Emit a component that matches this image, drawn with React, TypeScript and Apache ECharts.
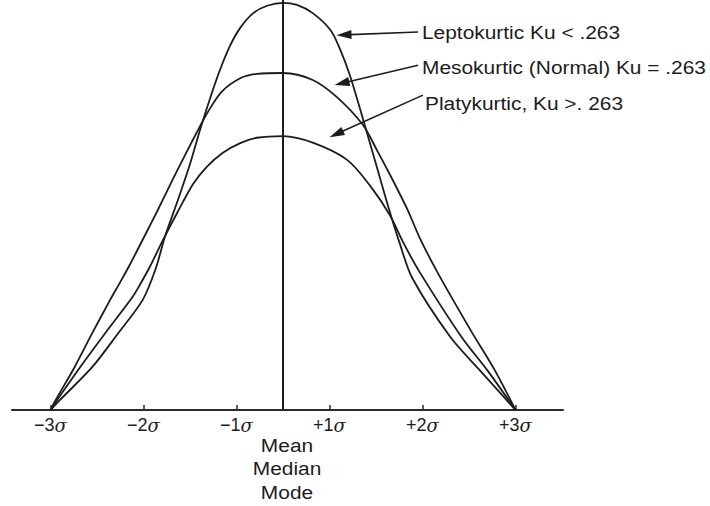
import React, { useEffect, useRef } from "react";
import * as echarts from "echarts";

// x in display units (center = mean), y as relative height (0..100)
const leptokurtic: [number, number][] = [
  [-2.5, 0], [-2.4, 2.4], [-2.05, 10.5], [-1.77, 18.8], [-1.51, 26.8], [-1.37, 34.4],
  [-1.27, 42.2], [-1.13, 51.2], [-1.0, 60.0], [-0.89, 68.5], [-0.78, 76.3], [-0.68, 82.8],
  [-0.57, 88.8], [-0.46, 93.2], [-0.32, 96.8], [-0.17, 98.6], [0, 99.3], [0.15, 98.8],
  [0.32, 96.8], [0.51, 92.7], [0.61, 88.2], [0.72, 81.6], [0.86, 71.0], [1.0, 60.0],
  [1.12, 50.5], [1.25, 41.0], [1.39, 32.2], [1.8, 17.8], [2.12, 9.6], [2.5, 0],
];
const mesokurtic: [number, number][] = [
  [-2.5, 0], [-2.45, 2.2], [-2.24, 10.5], [-2.05, 18.8], [-1.86, 26.8], [-1.75, 31.2],
  [-1.65, 35.3], [-1.48, 42.8], [-1.35, 48.6], [-1.18, 56.5], [-1.03, 63.2], [-0.92, 68.0],
  [-0.81, 72.6], [-0.66, 77.6], [-0.46, 80.9], [-0.28, 82.0], [0, 82.2], [0.32, 80.5],
  [0.58, 76.3], [0.86, 69.5], [1.01, 63.4], [1.18, 56.1], [1.34, 48.8], [1.47, 42.0],
  [1.67, 33.2], [2.03, 19.0], [2.28, 9.6], [2.5, 0],
];
const platykurtic: [number, number][] = [
  [-2.5, 0], [-2.43, 2.4], [-2.18, 10.5], [-1.91, 18.8], [-1.62, 27.5], [-1.54, 30.5],
  [-1.43, 35.0], [-1.29, 41.5], [-1.14, 48.0], [-0.97, 55.0], [-0.82, 59.3], [-0.65, 62.7],
  [-0.46, 65.1], [-0.28, 66.4], [0, 66.8], [0.32, 65.2], [0.69, 61.0], [0.94, 54.6],
  [1.15, 47.5], [1.29, 41.0], [1.46, 34.0], [1.92, 17.8], [2.2, 9.6], [2.5, 0],
];

const tickValues = [-2.5, -1.5, -0.5, 0.5, 1.5, 2.5];
const tickSigns = ["\u22123", "\u22122", "\u22121", "+1", "+2", "+3"];
const centerLabel = ["Mean", "Median", "Mode"];

const labels = ["Leptokurtic Ku < .263", "Mesokurtic (Normal) Ku = .263", "Platykurtic, Ku >. 263"];
// arrow start (near label) and arrow head (near curve), in data units
const arrowFrom: [number, number][] = [[1.452, 92.2], [1.452, 84.1], [1.505, 76.8]];
const arrowTo: [number, number][] = [[0.656, 91.5], [0.634, 79.7], [0.574, 67.3]];

const FONT = "'Liberation Sans', Arial, Helvetica, sans-serif";
const INK = "#1c1c1c";
const ARROW = "path://M0,0L5,16L-5,16Z";

export default function App() {
  const ref = useRef<HTMLDivElement>(null);
  useEffect(() => {
    if (!ref.current) return;
    const chart = echarts.init(ref.current, undefined, { renderer: "svg" });
    const curves = [leptokurtic, mesokurtic, platykurtic];
    const series: any[] = curves.map((d, i) => ({
      type: "line",
      data: d,
      smooth: 0.3,
      showSymbol: false,
      symbol: "none",
      lineStyle: { color: INK, width: 1.8 },
      silent: true,
      z: 3,
      markLine: {
        silent: true,
        animation: false,
        label: { show: false },
        lineStyle: { color: INK, width: 1.6, type: "solid" },
        symbol: ["none", ARROW],
        symbolSize: [1, [9, 15]],
        data: [[{ coord: arrowFrom[i] }, { coord: arrowTo[i], symbol: ARROW, symbolSize: [9, 15] }]],
      },
    }));
    series.push({
      type: "line",
      data: [],
      markLine: {
        silent: true,
        animation: false,
        symbol: "none",
        label: { show: false },
        lineStyle: { color: INK, width: 2, type: "solid" },
        data: [{ xAxis: 0 }],
      },
    });

    const graphics: any[] = [];
    const labelPos = [
      [422, 32],
      [422, 67],
      [425, 103],
    ];
    labels.forEach((t, i) => {
      graphics.push({
        type: "text",
        x: labelPos[i][0],
        y: labelPos[i][1],
        scaleX: 1.1,
        style: { text: t, fontSize: 19, fontFamily: FONT, fill: INK, align: "left", verticalAlign: "middle" },
      });
    });
    centerLabel.forEach((t, i) => {
      graphics.push({
        type: "text",
        x: 287,
        y: 445 + i * 23.5,
        scaleX: 1.1,
        style: { text: t, fontSize: 19, fontFamily: FONT, fill: INK, align: "center", verticalAlign: "middle" },
      });
    });

    chart.setOption({
      animation: false,
      backgroundColor: "#ffffff",
      grid: { left: 12, right: 147, top: 0, bottom: 96, containLabel: false },
      xAxis: {
        type: "value",
        min: -2.914,
        max: 3.011,
        splitLine: { show: false },
        axisLine: { show: true, onZero: false, lineStyle: { color: "#2a2a2a", width: 2 } },
        axisTick: {
          show: true,
          inside: true,
          length: 5,
          customValues: tickValues,
          lineStyle: { color: "#2a2a2a", width: 1.5 },
        },
        axisLabel: {
          show: true,
          customValues: tickValues,
          margin: 6,
          formatter: (v: number) => {
            const i = tickValues.findIndex((t) => Math.abs(t - v) < 1e-6);
            return i < 0 ? "" : `{n|${tickSigns[i]}}{s|\u03c3}`;
          },
          rich: {
            n: { fontSize: 18, fontFamily: FONT, color: INK },
            s: { fontSize: 18, fontFamily: "'DejaVu Serif', serif", fontStyle: "italic", color: INK },
          },
        },
      },
      yAxis: { type: "value", min: 0, max: 100, show: false },
      series,
      graphic: graphics,
    });
    return () => chart.dispose();
  }, []);
  return <div ref={ref} style={{ position: "fixed", left: 0, top: 0, width: 710, height: 506 }} />;
}
